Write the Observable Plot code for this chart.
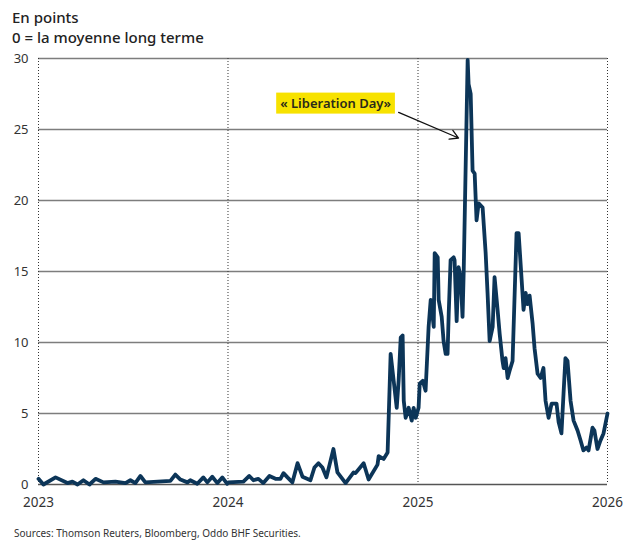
<!DOCTYPE html>
<html>
<head>
<meta charset="utf-8">
<script src="https://cdn.jsdelivr.net/npm/d3@7"></script>
<script src="https://cdn.jsdelivr.net/npm/@observablehq/plot@0.6"></script>
<style>
  html, body { margin: 0; padding: 0; background: #fff; }
  #wrap { position: relative; width: 627px; height: 540px; font-family: "Noto Sans", sans-serif; color: #222; overflow: hidden; }
  #head { position: absolute; left: 12px; top: 7px; font-size: 15px; line-height: 20px; font-weight: 500; color: #222; }
  #chart { position: absolute; left: 0; top: 48px; }
  #src { position: absolute; left: 14px; top: 526px; font-size: 10px; color: #333; }
</style>
</head>
<body>
<div id="wrap">
  <div id="head">En points<br>0 = la moyenne long terme</div>
  <div id="chart"></div>
  <div id="src">Sources: Thomson Reuters, Bloomberg, Oddo BHF Securities.</div>
</div>
<script>
// Series: time in decimal years, value in points
const times = [
  2023.000, 2023.026, 2023.090, 2023.153, 2023.179, 2023.206, 2023.237, 2023.269, 2023.301, 2023.343,
  2023.406, 2023.459, 2023.485, 2023.511, 2023.538, 2023.564, 2023.696, 2023.722, 2023.749, 2023.786,
  2023.801, 2023.838, 2023.870, 2023.891, 2023.917, 2023.944, 2023.970, 2023.996,
  2024.002, 2024.081, 2024.112, 2024.134, 2024.160, 2024.186, 2024.218, 2024.250, 2024.276, 2024.292,
  2024.313, 2024.339, 2024.366, 2024.392, 2024.434, 2024.455, 2024.476, 2024.497, 2024.518, 2024.555,
  2024.576, 2024.619, 2024.661, 2024.671, 2024.714, 2024.740, 2024.787, 2024.793, 2024.819, 2024.840,
  2024.856, 2024.872, 2024.888, 2024.898, 2024.909, 2024.919, 2024.925, 2024.935, 2024.951, 2024.967,
  2024.977, 2024.988, 2025.003, 2025.009, 2025.025, 2025.040, 2025.056, 2025.067, 2025.083, 2025.088,
  2025.104, 2025.109, 2025.125, 2025.135, 2025.146, 2025.156, 2025.162, 2025.172, 2025.188, 2025.193,
  2025.204, 2025.214, 2025.225, 2025.235, 2025.241, 2025.262, 2025.267, 2025.278, 2025.288, 2025.299,
  2025.309, 2025.320, 2025.341, 2025.357, 2025.367, 2025.378, 2025.394, 2025.404, 2025.420, 2025.431,
  2025.446, 2025.452, 2025.462, 2025.473, 2025.483, 2025.499, 2025.520, 2025.531, 2025.547, 2025.557,
  2025.568, 2025.578, 2025.589, 2025.605, 2025.615, 2025.631, 2025.647, 2025.662, 2025.673, 2025.689,
  2025.705, 2025.731, 2025.742, 2025.757, 2025.768, 2025.778, 2025.789, 2025.805, 2025.821, 2025.842,
  2025.858, 2025.873, 2025.889, 2025.900, 2025.921, 2025.931, 2025.947, 2025.963, 2025.979, 2026.000
];
const values = [
  0.4, 0.0, 0.5, 0.1, 0.2, 0.0, 0.3, 0.0, 0.4, 0.15,
  0.2, 0.1, 0.3, 0.1, 0.6, 0.15, 0.25, 0.7, 0.35, 0.15,
  0.3, 0.05, 0.5, 0.15, 0.55, 0.1, 0.5, 0.05,
  0.15, 0.2, 0.6, 0.3, 0.4, 0.1, 0.6, 0.4, 0.4, 0.8,
  0.5, 0.15, 1.5, 0.55, 0.3, 1.2, 1.5, 1.2, 0.5, 2.5,
  0.85, 0.1, 0.85, 0.8, 1.5, 0.35, 1.4, 2.0, 1.8, 2.25,
  9.2, 7.3, 5.4, 7.3, 10.35, 10.5, 5.9, 4.7, 5.4, 4.5,
  5.4, 4.7, 5.4, 7.1, 7.3, 6.6, 11.1, 13.0, 11.1, 16.3,
  16.0, 13.0, 11.8, 10.1, 9.2, 9.2, 12.0, 15.8, 16.0, 15.8,
  11.5, 15.3, 14.6, 11.8, 14.9, 29.9, 28.2, 27.5, 22.1, 21.9,
  18.6, 19.8, 19.5, 16.3, 13.5, 10.1, 11.1, 14.6, 12.3, 10.6,
  8.7, 8.2, 8.9, 7.5, 8.0, 8.7, 17.7, 17.7, 14.4, 12.3,
  13.5, 12.7, 13.3, 11.3, 9.6, 7.8, 7.5, 8.2, 5.9, 4.7,
  5.7, 5.7, 4.4, 3.6, 6.4, 8.9, 8.7, 5.9, 4.5, 3.8,
  3.1, 2.4, 2.6, 2.4, 4.0, 3.8, 2.5, 3.1, 3.6, 5.0
];
const yearTicks = [2023, 2024, 2025, 2026];
const yTicks = [0, 5, 10, 15, 20, 25, 30];
const gridValues = [5, 10, 15, 20, 25, 30];

// Annotation (label position and arrow, in data units)
const annotationLabel = ["« Liberation Day»"];
const annotationLabelAt = [2024.566, 26.8];
const annotationArrowFrom = [2024.898, 26.2];
const annotationArrowTo = [2025.214, 24.4];

function toDate(y) {
  const yr = Math.floor(y);
  const s = Date.UTC(yr, 0, 1), e = Date.UTC(yr + 1, 0, 1);
  return new Date(s + (y - yr) * (e - s));
}

const series = times.map((t, i) => ({date: toDate(t), value: values[i]}));
const yearDates = yearTicks.map(y => toDate(y));

const chart = Plot.plot({
  width: 627,
  height: 466,
  marginLeft: 38,
  marginRight: 20,
  marginTop: 10,
  marginBottom: 30,
  style: {fontFamily: "'Noto Sans', sans-serif", color: "#333", background: "#fff"},
  x: {type: "utc", domain: [toDate(2023), toDate(2026)]},
  y: {domain: [0, 30]},
  marks: [
    Plot.ruleY(gridValues, {stroke: "#7d7d7d", strokeWidth: 1.4}),
    Plot.ruleX(yearDates, {stroke: "#333", strokeWidth: 1, strokeDasharray: "1,2"}),
    Plot.ruleY([0], {stroke: "#555", strokeWidth: 1.5}),
    Plot.axisY({ticks: yTicks, tickSize: 0, tickPadding: 10, fontSize: 13, label: null, fill: "#333"}),
    Plot.axisX({ticks: yearDates, tickFormat: d3.utcFormat("%Y"), tickSize: 0, tickPadding: 13, fontSize: 13.5, label: null, fill: "#333"}),
    Plot.line(series, {x: "date", y: "value", stroke: "#0c3558", strokeWidth: 3.8, strokeLinejoin: "round", strokeLinecap: "round"}),
    Plot.arrow([0], {
      x1: () => toDate(annotationArrowFrom[0]), y1: () => annotationArrowFrom[1],
      x2: () => toDate(annotationArrowTo[0]), y2: () => annotationArrowTo[1],
      stroke: "#111", strokeWidth: 1.3, headLength: 11, bend: 0
    }),
    Plot.text(annotationLabel, {
      x: () => toDate(annotationLabelAt[0]), y: () => annotationLabelAt[1],
      text: d => d, fontSize: 13, fontWeight: 600, fill: "#2a2a1a", textAnchor: "middle"
    })
  ]
});

document.getElementById("chart").appendChild(chart);

// Yellow background behind the annotation label
const svg = chart.tagName.toLowerCase() === "svg" ? chart : chart.querySelector("svg");
svg.querySelectorAll("text").forEach(t => {
  if (t.textContent === annotationLabel[0]) {
    const bb = t.getBBox();
    const r = document.createElementNS("http://www.w3.org/2000/svg", "rect");
    r.setAttribute("x", bb.x - 4);
    r.setAttribute("y", bb.y - 1.5);
    r.setAttribute("width", bb.width + 8);
    r.setAttribute("height", bb.height + 3);
    r.setAttribute("fill", "#f7e200");
    const tr = t.getAttribute("transform");
    if (tr) r.setAttribute("transform", tr);
    t.parentNode.insertBefore(r, t);
  }
});
</script>
</body>
</html>
